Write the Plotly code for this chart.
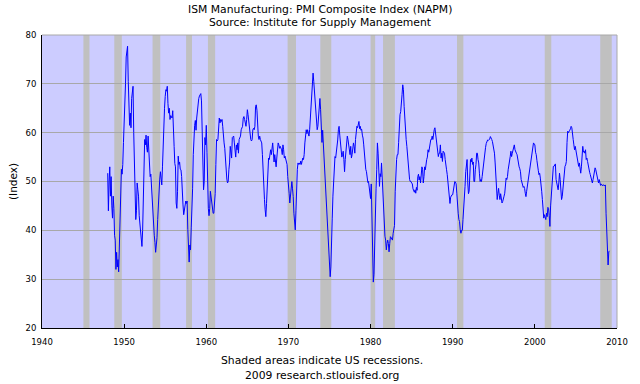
import plotly.graph_objects as go

# Monthly ISM Manufacturing PMI, Jan 1948 - Feb 2009
pmi_1948_1949 = [51.7, 44, 50, 53, 47, 51, 45, 42.5, 47, 44.5, 39, 38,
                 32, 35.5, 32.5, 34, 31.5, 38, 44, 50, 52.5, 51.5, 53.5, 58]
pmi_1950s = [61, 65, 70, 75.5, 77, 77.7, 70.5, 66, 61.5, 64, 61, 67,
             68.5, 69.5, 60, 52.5, 45.5, 42.2, 44, 49.7, 48.3, 47, 43, 41.5,
             40.5, 38.5, 36.7, 40, 45.5, 54, 58.6, 57.5, 59.5, 57, 56, 59.3,
             57, 55, 51, 51.5, 49, 44, 41.5, 40, 39, 37.5, 35.5, 37,
             38.5, 42.2, 46.3, 49, 50.5, 52, 51, 49.3, 53, 58.6, 61.3, 65,
             67.4, 68.8, 68.5, 69.5, 66, 64, 65, 62.7, 63.5, 63, 63, 64.5,
             58, 57.2, 53.7, 53, 45.6, 44.5, 48, 55.2, 53.5, 54, 52.5, 52.4,
             51, 45.6, 45.2, 43.2, 44.5, 45.6, 46, 45.5, 46, 40.2, 38, 33.5,
             37, 36, 40.5, 43.5, 48.5, 55.5, 59.5, 61.5, 62.5, 60.5, 63, 65,
             66.5, 67, 67.5, 68, 68, 66.5, 62, 55, 48.3, 50, 59, 57.5]
pmi_1960s = [61.5, 56, 48, 44.5, 43, 44.5, 48, 46.5, 46, 44.3, 43.5, 43.5,
             45.5, 47.5, 53.5, 58.6, 58.3, 58.6, 62, 63, 62, 62.7, 62.3, 62.7,
             61.3, 58.6, 57.9, 56.8, 53.7, 51, 50.5, 49.7, 50, 52.4, 53.8, 57.2,
             56, 54.8, 59, 59.3, 59.3, 57.9, 55.8, 55, 57.5, 56.5, 57.9, 55.8,
             58.6, 59, 59.3, 60.6, 61, 61.3, 63, 63.3, 62.7, 62, 61.3, 62.7,
             64.7, 63.7, 62.3, 60.9, 60.3, 58.6, 58.3, 58.6, 60.6, 60.9, 60.6, 61.3,
             65.4, 65.7, 64.6, 60.6, 59.3, 58.6, 59.3, 58.6, 57.9, 57.9, 55.5, 51,
             49.5, 46.3, 44.2, 42.8, 45.5, 49.5, 53.5, 54.8, 54.5, 55.2, 56.5, 55.5,
             56.5, 57.9, 56, 54, 55.5, 53.8, 53, 54.8, 56, 57.9, 57.5, 56.8,
             57.2, 56.8, 56.5, 55.5, 57.5, 56.5, 54.8, 55.2, 54.5, 53.8, 53.5, 51]
pmi_1970s = [49.7, 47.6, 45.6, 47, 48.3, 50, 48.5, 46.9, 43.5, 41.5, 40.1, 44,
             50.5, 52.5, 53.8, 53.5, 53.8, 53.5, 54.2, 53.5, 54.2, 54.8, 54.5, 55.5,
             57.9, 60.3, 60.6, 59.8, 60.6, 59.9, 59.3, 60.6, 62.8, 66, 68.5, 70.2,
             72.2, 70.5, 68, 66.3, 64.7, 62.7, 60.6, 61.3, 63.3, 66.7, 67, 64.7,
             61.5, 58, 60.5, 57.5, 56, 54, 51, 47.5, 44.5, 40.5, 37.5, 34,
             31.5, 30.5, 32.5, 36, 42.5, 47, 51, 53.8, 55.1, 54.8, 55.8, 57.2,
             58.5, 60.6, 61.3, 59.5, 57.2, 56.5, 55, 55.5, 56.2, 54.5, 52, 54.5,
             56.5, 57.9, 59.3, 58.6, 57.2, 56.8, 55.5, 57.2, 54.8, 55.5, 56.5, 57.9,
             57.2, 55.8, 58.6, 60.6, 61.3, 61, 61.8, 62.3, 60.8, 61.3, 60.5, 60.7,
             59.5, 58.9, 57.5, 55.5, 54, 52.5, 52, 50.2, 49.8, 50, 48.8, 47]
pmi_1980s = [46.5, 49.5, 43.5, 35, 29.4, 31, 40, 47.5, 48.5, 52.4, 57.9, 55.8,
             50.4, 49, 51.6, 51, 53.8, 51, 47.5, 45, 40.5, 38.8, 38, 36,
             37.3, 38, 37.3, 35.6, 37.3, 38.7, 38.5, 38.3, 38, 39.4, 40.1, 41,
             48, 53, 54.5, 55.5, 55.5, 58, 63.3, 63.7, 64.3, 65.5, 67.8, 69.8,
             68.8, 65.4, 62, 60.3, 58.6, 57.2, 55.1, 53, 50.4, 50.4, 50, 50,
             49.7, 49.5, 48.5, 47.8, 47.8, 48.3, 47.6, 48.8, 48.2, 51, 51.5, 50.3,
             51, 49.7, 51.5, 53, 52.5, 49.7, 51, 53, 52.4, 53.8, 54.5, 55,
             56.5, 56, 57.2, 57.9, 58.6, 58.6, 59.3, 58.6, 60, 60.6, 61, 60,
             59, 57.5, 56.5, 55.1, 55.8, 55.8, 57.5, 54.8, 55.8, 54.1, 56.2, 56,
             55.8, 54.5, 52.8, 52.4, 51.4, 50, 48.3, 46.3, 45.5, 46.8, 47.2, 47.3]
pmi_1990s = [47.3, 48.6, 49.9, 50, 49.9, 49.5, 47.6, 44.2, 43.5, 42.2, 41.8, 40.1,
             39.4, 40, 40, 42.2, 43.9, 47.3, 49, 52, 53.8, 54.5, 49.7, 47.5,
             48, 51.5, 54.5, 54, 54.8, 53.5, 54, 50, 50, 52.4, 53.5, 55.8,
             55.8, 54.5, 53.8, 51.7, 50, 50.4, 50, 51, 52.4, 53.5, 55, 56,
             57, 57.8, 58.3, 58.5, 58.4, 58.5, 58.7, 59.2, 59, 58.6, 58.2, 57.5,
             56.5, 55.8, 53.8, 51.7, 48.3, 46.3, 47.6, 48.6, 47.2, 46.3, 47.5, 46,
             45.6, 45.9, 46.3, 47, 47.6, 49.7, 50.7, 50.4, 51, 52.4, 53.8, 55.1,
             55.1, 56.2, 55.1, 55.8, 56.5, 57.2, 57.5, 56.5, 55.8, 55.8, 55.5, 54.5,
             53.8, 53, 52.6, 52, 50.4, 49.7, 49.2, 48.8, 49, 48.6, 47.6, 46.9,
             48, 49, 50, 51, 52.4, 53.8, 54.5, 55.1, 55.8, 57.5, 57.9, 57.7]
pmi_2000s = [57.5, 56, 55.5, 54.3, 52.4, 52.3, 51.4, 51.7, 50.7, 49.7, 48, 46.3,
             43.2, 42.5, 43.2, 42.8, 42.2, 43.5, 42.8, 44.7, 44.5, 43, 40.8, 45,
             46.9, 48.5, 52.4, 53.1, 53.1, 53.4, 53.6, 50.4, 49.7, 49, 48.3, 49.7,
             51.7, 50.4, 49, 46.3, 46.9, 48.6, 49.3, 50.4, 53.1, 53.4, 54.1, 58,
             60.3, 60, 60.5, 60.5, 60.8, 61.3, 61, 60.2, 58.6, 57.5, 56.5, 57.2,
             56.2, 55.8, 54.1, 53.4, 53.1, 53.8, 52.4, 51.7, 53, 55.2, 57.2, 56,
             56.2, 55.8, 56.5, 54.5, 54.8, 54.1, 53.1, 52.6, 51.9, 51.4, 50.7, 50.4,
             49.7, 50.4, 51.4, 51.7, 52.8, 52.4, 51.7, 51, 50.4, 49.7, 50.4, 50,
             49.2, 49.5, 49.3, 49.1, 49.3, 49.3, 49.1, 49.3, 43.5, 38.9, 36.2, 32.9,
             35.6, 35.8]
first_year = 1948

# US recessions (decimal years)
rec_start = [1945.04, 1948.8, 1953.46, 1957.54, 1960.2, 1969.9, 1973.88,
             1980.0, 1981.52, 1990.52, 2001.2, 2007.96]
rec_end = [1945.78, 1949.72, 1954.4, 1958.26, 1961.08, 1970.92, 1975.22,
           1980.56, 1982.96, 1991.3, 2002.0, 2009.36]

x_ticks = [1940, 1950, 1960, 1970, 1980, 1990, 2000, 2010]
y_ticks = [20, 30, 40, 50, 60, 70, 80]

values = (pmi_1948_1949 + pmi_1950s + pmi_1960s + pmi_1970s +
          pmi_1980s + pmi_1990s + pmi_2000s)
dates = [first_year + i / 12.0 for i in range(len(values))]

FONT = "DejaVu Sans"

fig = go.Figure()
fig.add_trace(go.Scatter(x=dates, y=values, mode="lines",
                         line=dict(color="#0000ff", width=1),
                         hoverinfo="skip", showlegend=False))

shapes = []
for s, e in zip(rec_start, rec_end):
    shapes.append(dict(type="rect", xref="x", yref="paper", x0=s, x1=e,
                       y0=0, y1=1, fillcolor="#c0c0c0", line=dict(width=0),
                       layer="below"))
# gray top and right frame
shapes.append(dict(type="line", xref="paper", yref="paper", x0=0, x1=1,
                   y0=1, y1=1, line=dict(color="#a8a8a8", width=1)))
shapes.append(dict(type="line", xref="paper", yref="paper", x0=1, x1=1,
                   y0=0, y1=1, line=dict(color="#a8a8a8", width=1)))

annotations = [
    dict(text="ISM Manufacturing: PMI Composite Index (NAPM)", xref="paper",
         yref="paper", x=0.484, y=1 + (35 - 9) / 293, showarrow=False,
         xanchor="center", yanchor="middle",
         font=dict(family=FONT, size=10.8, color="#000000")),
    dict(text="Source: Institute for Supply Management", xref="paper",
         yref="paper", x=0.484, y=1 + (35 - 22) / 293, showarrow=False,
         xanchor="center", yanchor="middle",
         font=dict(family=FONT, size=10.8, color="#000000")),
    dict(text="Shaded areas indicate US recessions.", xref="paper",
         yref="paper", x=0.487, y=-(360 - 328) / 293, showarrow=False,
         xanchor="center", yanchor="middle",
         font=dict(family=FONT, size=10.8, color="#000000")),
    dict(text="2009 research.stlouisfed.org", xref="paper",
         yref="paper", x=0.487, y=-(375 - 328) / 293, showarrow=False,
         xanchor="center", yanchor="middle",
         font=dict(family=FONT, size=10.8, color="#000000")),
    dict(text="(Index)", xref="paper", yref="paper", x=-(42 - 12) / 585,
         y=0.5, showarrow=False, textangle=-90, xanchor="center",
         yanchor="middle", font=dict(family=FONT, size=10.5, color="#000000")),
]

fig.update_layout(
    width=640, height=384, autosize=False,
    margin=dict(l=42, r=13, t=35, b=56, pad=0),
    paper_bgcolor="#ffffff", plot_bgcolor="#ccccff",
    shapes=shapes, annotations=annotations, showlegend=False,
    xaxis=dict(range=[1940, 2010], tickvals=x_ticks,
               ticktext=[str(t) for t in x_ticks],
               ticks="inside", ticklen=4, tickcolor="#000000", tickwidth=1,
               showline=True, linecolor="#000000", linewidth=1,
               showgrid=False, zeroline=False, ticklabelstandoff=6,
               tickfont=dict(family=FONT, size=8.5, color="#000000")),
    yaxis=dict(range=[20, 80], tickvals=y_ticks,
               ticktext=[str(t) for t in y_ticks],
               ticks="", showline=True, linecolor="#000000", linewidth=1,
               showgrid=True, gridcolor="#a8a8a8", gridwidth=1,
               zeroline=False, ticklabelstandoff=3,
               tickfont=dict(family=FONT, size=8.5, color="#000000")),
)

fig.write_html("out.html", config={"displayModeBar": False},
               post_script="document.body.style.margin='0';"
                           "document.body.style.overflow='hidden';")
